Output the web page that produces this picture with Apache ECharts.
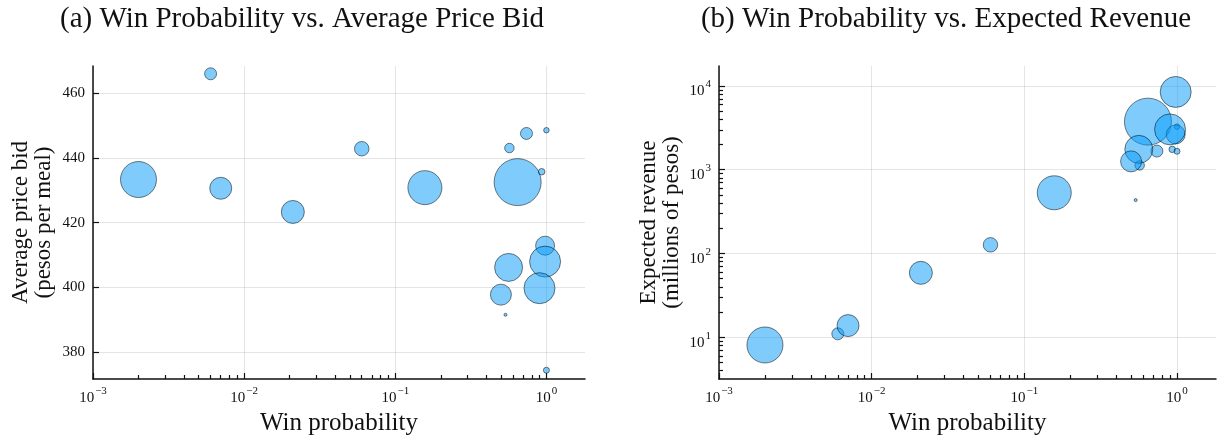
<!DOCTYPE html>
<html>
<head>
<meta charset="utf-8">
<script src="https://cdn.jsdelivr.net/npm/echarts@6/dist/echarts.min.js"></script>
<style>
  html, body { margin: 0; padding: 0; background: #fff; }
  #chart { width: 1221px; height: 442px; }
</style>
</head>
<body>
<div id="chart"></div>
<script>
// one entry per bidder, same order in every array
const winProb  = [0.006, 0.002, 0.007, 0.021, 0.060, 0.157, 0.645, 0.569, 0.738, 1.0, 0.93, 0.98, 0.98, 0.562, 0.90, 0.50, 0.536, 1.0]
const avgPrice = [465.9, 433.3, 430.6, 423.3, 442.8, 430.8, 432.5, 443.0, 447.5, 448.5, 435.7, 412.9, 408.0, 406.2, 399.8, 397.8, 391.6, 374.5]
const revenue  = [11.0, 8.1, 13.8, 58.8, 127, 531, 3750, 1127, 1670, 3270, 1750, 2640, 8480, 1750, 3030, 1258, 434, 1660]
// relative bubble magnitude
const bubble   = [12, 36, 22, 23, 14.5, 34, 47, 9.5, 12, 5.5, 6.5, 19, 31, 28, 31, 21, 3, 6]

const priceTicks = [380, 400, 420, 440, 460]
const probTicks = [0.001, 0.01, 0.1, 1]
const revTicks = [10, 100, 1000, 10000]

const serif = "'Liberation Serif', 'Times New Roman', serif"
const ink = '#111'

// minor ticks 2..9 of every decade inside [lo, hi]
function minorTicks(lo, hi) {
  const out = []
  for (let d = Math.floor(Math.log10(lo)); d <= Math.ceil(Math.log10(hi)); d++) {
    for (let k = 2; k <= 9; k++) {
      const v = k * Math.pow(10, d)
      if (v > lo && v < hi) out.push(+v.toPrecision(3))
    }
  }
  return out
}

function powLabel(v) {
  const e = Math.round(Math.log10(v))
  return '{b|10}{e|' + (e < 0 ? '\u2212' + (-e) : e) + '}'
}

const powRich = {
  b: { fontSize: 15, lineHeight: 26, verticalAlign: 'bottom', fontFamily: serif, color: ink },
  e: { fontSize: 11, verticalAlign: 'top', padding: [6, 0, 0, 1], fontFamily: serif, color: ink }
}

const xMin = 0.001, xMax = 1.8
const yMinL = 371.8, yMaxL = 468.3
const yMinR = 3.18, yMaxR = 17300

const gridLine = { show: true, lineStyle: { color: 'rgba(0,0,0,0.1)', width: 1 } }
const axisLine = { show: true, onZero: false, lineStyle: { color: ink, width: 1.5 } }
const minorTick = { show: true, inside: true, length: 4, lineStyle: { color: ink, width: 1.2 } }

function probAxis(gridIndex) {
  return [{
    type: 'log', logBase: 10, gridIndex, min: xMin, max: xMax, position: 'bottom',
    name: 'Win probability', nameLocation: 'middle', nameGap: 32,
    nameTextStyle: { fontFamily: serif, fontSize: 25, color: ink },
    axisLine,
    axisTick: { show: true, inside: true, length: 6, customValues: probTicks, lineStyle: { color: ink, width: 1.2 } },
    axisLabel: { customValues: probTicks, formatter: powLabel, rich: powRich, margin: 1 },
    splitLine: gridLine
  }, {
    type: 'log', logBase: 10, gridIndex, min: xMin, max: xMax, position: 'bottom',
    axisLine: { show: false },
    axisTick: { ...minorTick, customValues: minorTicks(xMin, xMax) },
    axisLabel: { show: false },
    splitLine: { show: false }
  }]
}

const bubbleStyle = {
  color: 'rgba(0,154,250,0.5)',
  borderColor: 'rgba(0,0,0,0.5)',
  borderWidth: 1,
  opacity: 1
}

const chart = echarts.init(document.getElementById('chart'))
chart.setOption({
  backgroundColor: '#fff',
  animation: false,
  title: [{
    text: '(a) Win Probability vs. Average Price Bid',
    left: 297, top: 0, textAlign: 'center',
    textStyle: { fontFamily: serif, fontSize: 29, fontWeight: 'normal', color: ink }
  }, {
    text: '(b) Win Probability vs. Expected Revenue',
    left: 941, top: 0, textAlign: 'center',
    textStyle: { fontFamily: serif, fontSize: 29, fontWeight: 'normal', color: ink }
  }],
  grid: [
    { left: 93, right: 636, top: 66, bottom: 63 },
    { left: 719, right: 5, top: 66, bottom: 63 }
  ],
  xAxis: [...probAxis(0), ...probAxis(1)],
  yAxis: [{
    type: 'value', gridIndex: 0, min: yMinL, max: yMaxL,
    name: 'Average price bid\n(pesos per meal)', nameLocation: 'middle', nameRotate: 90, nameGap: 38,
    nameTextStyle: { fontFamily: serif, fontSize: 23, lineHeight: 23, color: ink },
    axisLine,
    axisTick: { show: true, inside: true, length: 6, customValues: priceTicks, lineStyle: { color: ink, width: 1.2 } },
    axisLabel: { customValues: priceTicks, fontFamily: serif, fontSize: 15, color: ink, margin: 8 },
    splitLine: gridLine
  }, {
    type: 'log', logBase: 10, gridIndex: 1, min: yMinR, max: yMaxR,
    name: 'Expected revenue\n(millions of pesos)', nameLocation: 'middle', nameRotate: 90, nameGap: 36,
    nameTextStyle: { fontFamily: serif, fontSize: 23, lineHeight: 23, color: ink },
    axisLine,
    axisTick: { show: true, inside: true, length: 6, customValues: revTicks, lineStyle: { color: ink, width: 1.2 } },
    axisLabel: { customValues: revTicks, formatter: powLabel, rich: powRich, margin: 8 },
    splitLine: gridLine
  }, {
    type: 'log', logBase: 10, gridIndex: 1, min: yMinR, max: yMaxR, position: 'left',
    axisLine: { show: false },
    axisTick: { ...minorTick, customValues: minorTicks(yMinR, yMaxR) },
    axisLabel: { show: false },
    splitLine: { show: false }
  }],
  series: [{
    type: 'scatter', xAxisIndex: 0, yAxisIndex: 0, clip: false,
    data: winProb.map((p, i) => [p, avgPrice[i], bubble[i]]),
    symbolSize: v => v[2],
    itemStyle: bubbleStyle
  }, {
    type: 'scatter', xAxisIndex: 2, yAxisIndex: 1, clip: false,
    data: winProb.map((p, i) => [p, revenue[i], bubble[i]]),
    symbolSize: v => v[2],
    itemStyle: bubbleStyle
  }]
})
</script>
</body>
</html>
